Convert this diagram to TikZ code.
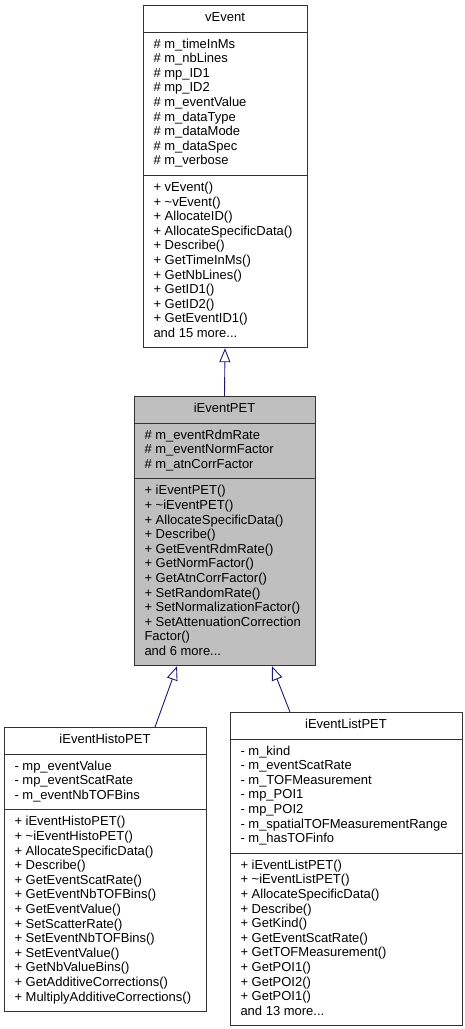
\documentclass[tikz,border=0pt]{standalone}
\usepackage{fontspec}
\setmainfont{Liberation Sans}
\usetikzlibrary{calc}
\usetikzlibrary{shapes.multipart}
\usetikzlibrary{arrows.meta}

\definecolor{edgeblue}{RGB}{25,25,112}
\newcommand{\fieldlist}[1]{\begin{tabular}{@{}l@{}}#1\end{tabular}}

\begin{document}
\begin{tikzpicture}[x=1pt,y=-1pt,
    classbox/.style={draw=black!80, line width=0.9pt, fill=white,
        rectangle split, rectangle split parts=3,
        rectangle split part align={center,left,left},
        inner xsep=10.5pt, inner ysep=5.5pt, anchor=north,
        font=\fontsize{13}{14.6}\selectfont},
    inherit/.style={edgeblue, line width=0.9pt,
        -{Triangle[open,length=14pt,width=11pt]}}]

    % Page frame
    \useasboundingbox (0,0) rectangle (465,1029);

    % Base class
    \node[classbox, minimum width=164pt] (vevent) at (225,5) {%
        \fieldlist{vEvent}
        \nodepart{two}\fieldlist{\# m\_timeInMs\\ \# m\_nbLines\\ \# mp\_ID1\\ \# mp\_ID2\\
            \# m\_eventValue\\ \# m\_dataType\\ \# m\_dataMode\\ \# m\_dataSpec\\ \# m\_verbose}
        \nodepart{three}\fieldlist{+ vEvent()\\ + \textasciitilde vEvent()\\ + AllocateID()\\
            + AllocateSpecificData()\\ + Describe()\\ + GetTimeInMs()\\ + GetNbLines()\\
            + GetID1()\\ + GetID2()\\ + GetEventID1()\\ and 15 more...}};

    % Current class (grey)
    \node[classbox, minimum width=181pt, fill=black!25] (pet) at (224.5,396) {%
        \fieldlist{iEventPET}
        \nodepart{two}\fieldlist{\# m\_eventRdmRate\\ \# m\_eventNormFactor\\ \# m\_atnCorrFactor}
        \nodepart{three}\fieldlist{+ iEventPET()\\ + \textasciitilde iEventPET()\\
            + AllocateSpecificData()\\ + Describe()\\ + GetEventRdmRate()\\ + GetNormFactor()\\
            + GetAtnCorrFactor()\\ + SetRandomRate()\\ + SetNormalizationFactor()\\
            + SetAttenuationCorrection\\ Factor()\\ and 6 more...}};

    % Derived classes
    \node[classbox, minimum width=202pt] (histo) at (105,727) {%
        \fieldlist{iEventHistoPET}
        \nodepart{two}\fieldlist{- mp\_eventValue\\ - mp\_eventScatRate\\ - m\_eventNbTOFBins}
        \nodepart{three}\fieldlist{+ iEventHistoPET()\\ + \textasciitilde iEventHistoPET()\\
            + AllocateSpecificData()\\ + Describe()\\ + GetEventScatRate()\\
            + GetEventNbTOFBins()\\ + GetEventValue()\\ + SetScatterRate()\\
            + SetEventNbTOFBins()\\ + SetEventValue()\\ + GetNbValueBins()\\
            + GetAdditiveCorrections()\\ + MultiplyAdditiveCorrections()}};

    \node[classbox, minimum width=232pt] (list) at (346,712) {%
        \fieldlist{iEventListPET}
        \nodepart{two}\fieldlist{- m\_kind\\ - m\_eventScatRate\\ - m\_TOFMeasurement\\
            - mp\_POI1\\ - mp\_POI2\\ - m\_spatialTOFMeasurementRange\\ - m\_hasTOFinfo}
        \nodepart{three}\fieldlist{+ iEventListPET()\\ + \textasciitilde iEventListPET()\\
            + AllocateSpecificData()\\ + Describe()\\ + GetKind()\\ + GetEventScatRate()\\
            + GetTOFMeasurement()\\ + GetPOI1()\\ + GetPOI2()\\ + GetPOI1()\\ and 13 more...}};

    % Attach points
    \coordinate (histoTop) at ($(histo.north)+(50,0)$);
    \coordinate (listTop) at ($(list.north)+(-56,0)$);
    \coordinate (petLeft) at ($(pet.south)+(-47.5,0)$);
    \coordinate (petRight) at ($(pet.south)+(47.5,0)$);

    % Inheritance
    \draw[inherit] (pet.north) -- (vevent.south);
    \draw[inherit] (histoTop) -- (petLeft);
    \draw[inherit] (listTop) -- (petRight);
\end{tikzpicture}
\end{document}
